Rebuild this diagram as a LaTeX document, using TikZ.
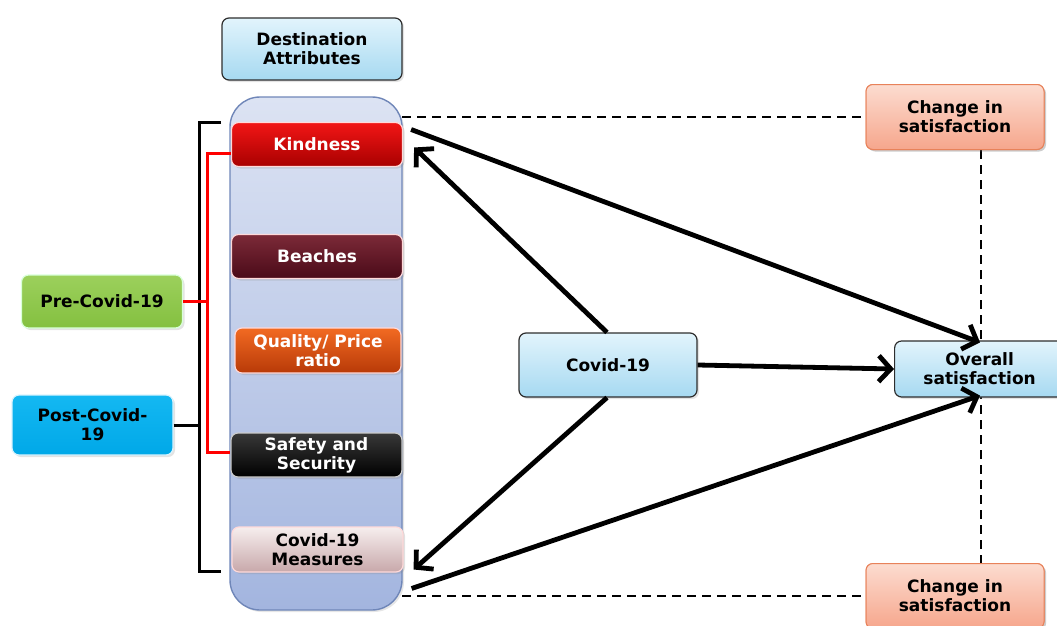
\documentclass[tikz,border=0pt]{standalone}
\usepackage{fontspec}
\setmainfont{DejaVu Sans}
\usetikzlibrary{arrows.meta,shadows}
\definecolor{boxline}{HTML}{2E2E2E}
\definecolor{colline}{HTML}{6F86B8}
\definecolor{coltop}{HTML}{DCE3F3}
\definecolor{colbot}{HTML}{A3B5DF}
\definecolor{skytop}{HTML}{E2F4FC}
\definecolor{skybot}{HTML}{A6D9F1}
\definecolor{chgline}{HTML}{E8825A}
\definecolor{chgtopc}{HTML}{FCDCD0}
\definecolor{chgbotc}{HTML}{F6A68C}
\definecolor{kindtop}{HTML}{F21616}
\definecolor{kindbot}{HTML}{A80000}
\definecolor{beachtop}{HTML}{7C2A38}
\definecolor{beachbot}{HTML}{4A0A18}
\definecolor{qualtop}{HTML}{F26A22}
\definecolor{qualbot}{HTML}{B83A08}
\definecolor{meastop}{HTML}{F6EEEE}
\definecolor{measbot}{HTML}{C8A8AA}
\definecolor{pretop}{HTML}{9CD05C}
\definecolor{prebot}{HTML}{84C040}
\definecolor{posttop}{HTML}{14B8F2}
\definecolor{postbot}{HTML}{00A8E8}
\tikzset{
  base/.style={rounded corners=7pt, align=center, font=\bfseries\fontsize{17}{19}\selectfont,
    inner sep=2pt, drop shadow={opacity=0.22, shadow xshift=2pt, shadow yshift=-2pt}},
  bluebox/.style={base, draw=boxline, line width=1.2pt, top color=skytop, bottom color=skybot, text=black},
  attr/.style={base, draw=white!85!red, line width=1.2pt, minimum width=171pt, minimum height=44pt, text=white},
  chg/.style={base, draw=chgline, line width=1pt, top color=chgtopc, bottom color=chgbotc, text=black,
    minimum width=178pt, minimum height=65pt},
  grp/.style={base, line width=1.2pt, text=black, minimum width=161pt},
  link/.style={line width=4.8pt, -{Straight Barb[length=12pt, width=26pt, line width=4.8pt]}},
  frame/.style={line width=2.2pt, dash pattern=on 9pt off 6pt},
  brk/.style={line width=3pt, line join=miter}
}
\begin{document}
\begin{tikzpicture}[x=1pt, y=-1pt]
\useasboundingbox (0,0) rectangle (1057,626);

% dashed frame behind everything
\node[chg] (chgtop) at (955,117) {Change in\\satisfaction};
\node[chg] (chgbot) at (955,596) {Change in\\satisfaction};
\coordinate (ftl) at (402,117);
\coordinate (fbl) at (402,596);
\draw[frame] (ftl) -- (chgtop.west);
\draw[frame] (fbl) -- (chgbot.west);
\draw[frame] (chgtop.south -| 981,0) -- (chgbot.north -| 981,0);
\node[chg] at (955,117) {Change in\\satisfaction};
\node[chg] at (955,596) {Change in\\satisfaction};

% attribute column
\node[rounded corners=30pt, draw=colline, line width=1.4pt, top color=coltop, bottom color=colbot,
  minimum width=172pt, minimum height=513pt, drop shadow={opacity=0.2, shadow xshift=2pt, shadow yshift=-2pt}] (col) at (316,353.5) {};
\node[bluebox, minimum width=180pt, minimum height=62pt] (dest) at (312,49) {Destination\\Attributes};

\node[attr, top color=kindtop, bottom color=kindbot] (kind) at (317,144.5) {Kindness};
\node[attr, top color=beachtop, bottom color=beachbot] (beach) at (317,256.5) {Beaches};
\node[attr, minimum width=166pt, minimum height=45pt, top color=qualtop, bottom color=qualbot] (qual) at (318,350.5) {Quality/ Price\\ratio};
\node[attr, draw=white!80!black, top color=black!78, bottom color=black] (safe) at (316.5,455) {Safety and\\Security};
\node[attr, minimum height=45pt, top color=meastop, bottom color=measbot, text=black] (meas) at (317.5,549.5) {Covid-19\\Measures};

% period groups
\node[grp, draw=white!85!green, top color=pretop, bottom color=prebot, minimum height=53pt] (pre) at (102,301.5) {Pre-Covid-19};
\node[grp, draw=white!85!cyan, top color=posttop, bottom color=postbot, minimum height=60pt] (post) at (92.5,425) {Post-Covid-\\19};

% brackets
\coordinate (bt) at (221,122);
\coordinate (bb) at (221,571);
\draw[brk, black] (bt) -- (199,122) -- (199,571) -- (bb);
\draw[brk, black] (post.east) -- (199,425);
\draw[brk, red] (kind.west |- 0,153) -- (207,153) -- (207,452) -- (safe.west |- 0,452);
\draw[brk, red] (pre.east) -- (207,301.5);

% model nodes
\node[bluebox, minimum width=178pt, minimum height=64pt] (cov) at (608,365) {Covid-19};
\node[bluebox, minimum width=170pt, minimum height=56pt, anchor=west] (over) at (894,369) {Overall\\satisfaction};

% effects
\draw[link] ([xshift=8pt,yshift=15pt]kind.east) -- ([xshift=86pt,yshift=-2pt]over.north west);
\draw[link] ([xshift=-1pt]cov.north) -- ([xshift=11pt,yshift=-3pt]kind.east);
\draw[link] (cov.east) -- (over.west);
\draw[link] ([xshift=-1pt]cov.south) -- ([xshift=10pt,yshift=-20pt]meas.east);
\draw[link] ([xshift=8pt,yshift=-39pt]meas.east) -- ([xshift=86pt,yshift=2pt]over.south west);
\end{tikzpicture}
\end{document}
